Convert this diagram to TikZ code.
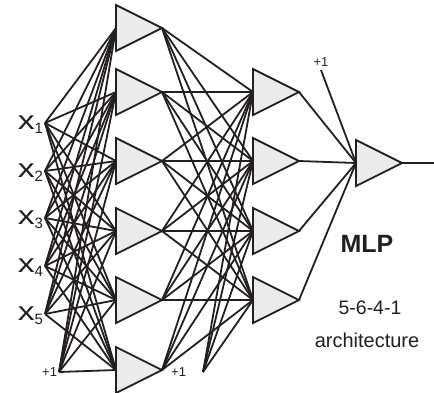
\documentclass[tikz,border=0pt]{standalone}
\usepackage{fontspec}
\setmainfont{Liberation Sans}
\usepackage{graphicx}
\definecolor{linec}{HTML}{231F20}
\definecolor{neurfill}{HTML}{EBEBEB}
\definecolor{textc}{HTML}{231F20}
\begin{document}
\begin{tikzpicture}[x=1pt,y=-1pt,
  conn/.style={draw=linec, line width=1.8pt},
  neuron/.style={draw=linec, fill=neurfill, line width=1.8pt, line join=miter},
  lbl/.style={text=textc, inner sep=0pt, outer sep=0pt}]
\useasboundingbox (0,0) rectangle (434,392);
% inputs
\foreach \i/\y in {1/123,2/171,3/218,4/266,5/314} {
  \coordinate (x\i) at (45,\y);
  \node[lbl, anchor=base east] (xl\i) at (43,\y+6)
    {{\fontsize{26}{26}\selectfont\scalebox{1.3}[1]{x}}{\fontsize{15}{15}\selectfont\raisebox{-4.5pt}{\i}}};
}
% hidden layer 1
\foreach \i/\y in {1/28,2/92,3/161,4/231,5/300,6/370} {
  \coordinate (hin\i) at (116,\y);
  \coordinate (hout\i) at (162,\y);
}
% hidden layer 2
\foreach \k/\y in {1/92,2/161,3/231,4/300} {
  \coordinate (gin\k) at (253,\y);
  \coordinate (gout\k) at (299,\y);
}
% output
\coordinate (oin) at (356,163);
\coordinate (oout) at (402,163);
\coordinate (oend) at (434,163);
% biases
\coordinate (b1) at (59,372);
\coordinate (b2) at (203,372);
\coordinate (b3) at (321,70);
\node[lbl, anchor=east, font=\fontsize{13}{13}\selectfont] (b1l) at (57,372) {+1};
\node[lbl, anchor=east, font=\fontsize{13}{13}\selectfont] (b2l) at (186,372) {+1};
\node[lbl, anchor=south, font=\fontsize{13}{13}\selectfont] (b3l) at (321,66) {+1};
% connections
\foreach \i in {1,...,5} \foreach \j in {1,...,6} \draw[conn] (x\i) -- (hin\j);
\foreach \j in {1,...,6} \draw[conn] (b1) -- (hin\j);
\foreach \j in {1,...,6} \foreach \k in {1,...,4} \draw[conn] (hout\j) -- (gin\k);
\foreach \k in {1,...,4} \draw[conn] (b2) -- (gin\k);
\foreach \k in {1,...,4} \draw[conn] (gout\k) -- (oin);
\draw[conn] (b3) -- (oin);
\draw[conn] (oout) -- (oend);
% neurons
\foreach \i in {1,...,6}
  \draw[neuron] ([yshift=23pt]hin\i) -- ([yshift=-23pt]hin\i) -- (hout\i) -- cycle;
\foreach \k in {1,...,4}
  \draw[neuron] ([yshift=23pt]gin\k) -- ([yshift=-23pt]gin\k) -- (gout\k) -- cycle;
\draw[neuron] ([yshift=23pt]oin) -- ([yshift=-23pt]oin) -- (oout) -- cycle;
% texts
\node[lbl, font=\fontsize{25}{25}\selectfont\bfseries] (mlp) at (367,244) {MLP};
\node[lbl, font=\fontsize{19.5}{19.5}\selectfont] (arch1) at (370,308) {5-6-4-1};
\node[lbl, font=\fontsize{20}{20}\selectfont] (arch2) at (367,340) {architecture};
\end{tikzpicture}
\end{document}
